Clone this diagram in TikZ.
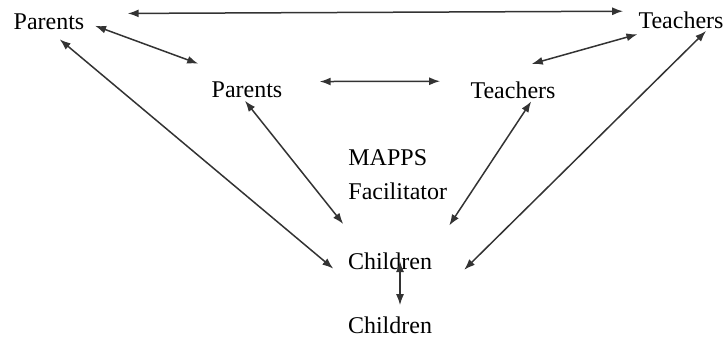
\documentclass[tikz,border=0pt]{standalone}
\usepackage{fontspec}
\setmainfont{Liberation Serif}
\usetikzlibrary{arrows.meta}
\begin{document}
\begin{tikzpicture}[x=0.5pt,y=-0.5pt,
  >={Latex[length=5.5pt,width=4pt]},
  lbl/.style={inner sep=0pt,font=\fontsize{12}{17}\selectfont},
  link/.style={<->,line width=0.75pt,black!80}]
\useasboundingbox (0,0) rectangle (726,337);
\node[lbl] (pOut) at (49,22) {Parents};
\node[lbl] (tOut) at (681,20) {Teachers};
\node[lbl] (pIn) at (247,90) {Parents};
\node[lbl] (tIn) at (513,90) {Teachers};
\node[lbl,anchor=west,align=left] (fac) at (348,175) {MAPPS\\Facilitator};
\node[lbl] (cIn) at (390,261) {Children};
\node[lbl] (cOut) at (390,325) {Children};

\draw[link,shorten <=21.5pt,shorten >=7.5pt] (pOut.north east) -- (tOut.north west);
\draw[link,shorten <=5.5pt,shorten >=26pt] (pOut.east) -- (pIn.north);
\draw[link,shorten <=7pt,shorten >=37pt] (pOut.south) -- (cOut.north);
\draw[link,shorten <=1.5pt,shorten >=18pt] (pIn.-115) -- (cIn.160);
\draw[link,shorten <=18.5pt,shorten >=15pt] (pIn.north east) -- (tIn.north west);
\draw[link,shorten <=10pt,shorten >=32pt] (tOut.-160) -- (tIn.north west);
\draw[link,shorten <=1.5pt,shorten >=16pt] (tIn.-24) -- (cIn.12);
\draw[link,shorten <=1.5pt,shorten >=33pt] (tOut.-18) -- (cOut.18);
\draw[link,shorten >=5.5pt] ([xshift=5pt]cIn.center) -- ([xshift=5pt]cOut.north);
\end{tikzpicture}
\end{document}
